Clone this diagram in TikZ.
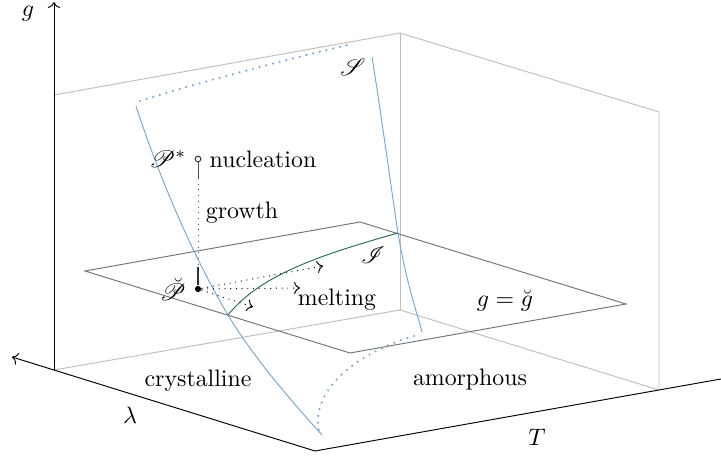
\documentclass[tikz,border=0pt]{standalone}
\usepackage{amsmath, amssymb}
\usepackage{mathrsfs}
\usepackage{xcolor}
\usepackage{tikz}
\usetikzlibrary{arrows.meta, positioning}

\definecolor{surfblue}{RGB}{125,165,205}
\definecolor{curvegreen}{RGB}{45,105,85}

\begin{document}
\begin{tikzpicture}[
    x=0.42pt, y=-0.42pt,
    axis/.style={draw=black, thin},
    wall/.style={draw=black!25, thin},
    plane/.style={draw=black!55, thin},
    surf/.style={draw=surfblue, thin},
    hidden/.style={draw=surfblue, line width=1pt, line cap=round, dash pattern=on 0pt off 2.9pt},
    move/.style={draw=black, dotted, ->},
    label/.style={font=\normalsize}
]
    \useasboundingbox (0,0) rectangle (721,456);

    % corners of the box
    \coordinate (orig) at (54,370);
    \coordinate (front) at (315,451);
    \coordinate (back) at (400,310);
    \coordinate (right) at (659,390);
    \coordinate (origtop) at (54,95);
    \coordinate (backtop) at (400,33);
    \coordinate (righttop) at (659,112);

    \draw [wall] (origtop) -- (backtop) -- (righttop) -- (right);
    \draw [wall] (backtop) -- (back);
    \draw [wall] (orig) -- (back) -- (right);

    % axes
    \coordinate (gend) at (54,2);
    \coordinate (lend) at (12,357);
    \coordinate (tend) at (721,379);
    \draw [axis, ->] (orig) -- (gend);
    \draw [axis, ->] (front) -- (lend);
    \draw [axis] (front) -- (tend);
    \node (glabel) at (28,14) {$g$};
    \node (llabel) at (130,415) {$\lambda$};
    \node (tlabel) at (537,437) {$T$};

    % plane g = const
    \coordinate (pa) at (85,271);
    \coordinate (pb) at (360,222);
    \coordinate (pc) at (626,304);
    \coordinate (pd) at (350,353);
    \draw [plane] (pa) -- (pb) -- (pc) -- (pd) -- cycle;
    \node (planelabel) at (505,301) {$g = \breve{g}$};

    % surface S
    \coordinate (sltop) at (136,106);
    \coordinate (sl) at (228,315);
    \coordinate (slbot) at (322,435);
    \coordinate (srtop) at (372,57);
    \coordinate (sr) at (398,233);
    \coordinate (srbot) at (422,332);
    \draw [surf] (sltop) .. controls (160,180) and (195,260) .. (sl)
                         .. controls (255,360) and (295,405) .. (slbot);
    \draw [surf] (srtop) .. controls (382,120) and (390,180) .. (sr)
                         .. controls (405,275) and (413,300) .. (srbot);
    \draw [hidden] (140,101) .. controls (200,82) and (300,56) .. (352,44);
    \draw [hidden] (414,336) .. controls (350,355) and (308,395) .. (320,435);
    \node (slabel) at (353,67) {$\mathscr{S}$};

    % curve I
    \draw [curvegreen, thin] (sl) .. controls (260,275) and (320,255) .. (sr);
    \node (ilabel) at (373,255) {$\mathscr{I}$};

    % nucleation and growth
    \node [circle, draw=black!80, fill=white, inner sep=0pt, minimum size=2.4pt] (pstar) at (198,159) {};
    \node [circle, fill=black, inner sep=0pt, minimum size=2.6pt] (pbreve) at (198,289) {};
    \node [left=0pt of pstar] (pstarlabel) {$\mathscr{P}^*$};
    \node [right=0pt of pstar] (nucl) {nucleation};
    \node [left=0pt of pbreve] (pbrevelabel) {$\breve{\mathscr{P}}$};
    \coordinate (g1) at (198,178);
    \coordinate (g2) at (198,267);
    \draw [black!70] (pstar) -- (g1);
    \draw [black!70, dotted] (g1) -- (g2);
    \draw [black!80, thick] (g2) -- (pbreve);
    \node (growth) at (242,213) {growth};

    % melting
    \coordinate (m1) at (323,266);
    \coordinate (m2) at (300,288);
    \coordinate (m3) at (253,307);
    \draw [move] (pbreve) -- (m1);
    \draw [move] (pbreve) -- (m2);
    \draw [move] (pbreve) -- (m3);
    \node (melting) at (337,300) {melting};

    % phases
    \node (cryst) at (198,381) {crystalline};
    \node (amorph) at (470,380) {amorphous};
\end{tikzpicture}
\end{document}
